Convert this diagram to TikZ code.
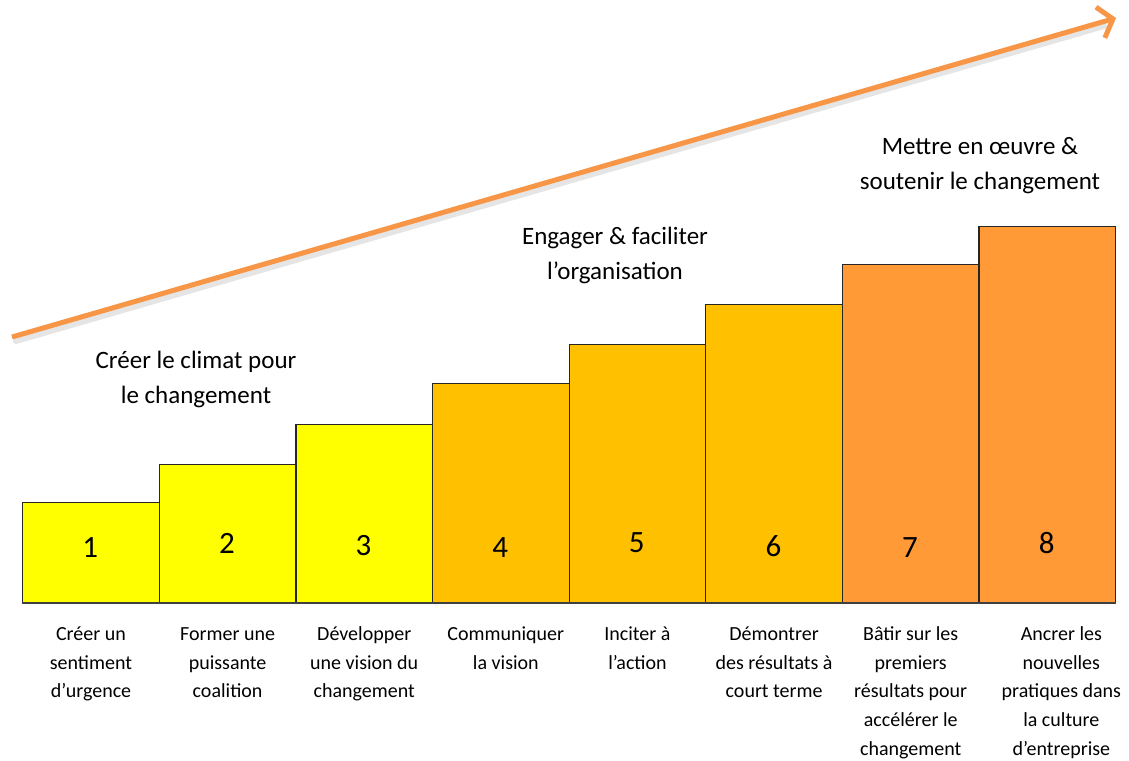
\documentclass[tikz,border=0pt]{standalone}
\usepackage{fontspec}
\setmainfont{Carlito}
\usetikzlibrary{arrows.meta,positioning}
\definecolor{stepyellow}{HTML}{FFFF00}
\definecolor{stepamber}{HTML}{FFC000}
\definecolor{steporange}{HTML}{FF9A36}
\definecolor{arroworange}{HTML}{F79646}

\begin{document}
\begin{tikzpicture}[
  x=1pt, y=-1pt,
  bar/.style={draw=black!85, line width=1.3pt, minimum width=136.625pt, inner sep=0pt, anchor=south west},
  num/.style={font=\fontsize{31}{34}\selectfont, inner sep=0pt},
  steplabel/.style={align=center, anchor=north, inner sep=0pt, font=\fontsize{20}{28.8}\selectfont},
  phase/.style={align=center, inner sep=0pt, font=\fontsize{25}{35}\selectfont},
  arrow/.style={-{Straight Barb[length=13pt, width=32pt]}, line width=5pt, arroworange}
]
\useasboundingbox (0,0) rectangle (1129,760);

% rising arrow
\coordinate (arrowstart) at (12,337);
\coordinate (arrowend) at (1116,18);
\draw[black!10, line width=6pt, line cap=round] ([shift={(4,4)}]arrowstart) -- ([shift={(-12,8)}]arrowend);
\draw[arrow] (arrowstart) -- (arrowend);

% steps
\foreach \i/\top/\ny/\dx/\col/\txt in {
  1/503/548/0/stepyellow/{Créer un\\sentiment\\d’urgence},
  2/465/543/0/stepyellow/{Former une\\puissante\\coalition},
  3/425/546/0/stepyellow/{Développer\\une vision du\\changement},
  4/384/548/5/stepamber/{Communiquer\\la vision},
  5/345/543/0/stepamber/{Inciter à\\l’action},
  6/305/546/0/stepamber/{Démontrer\\des résultats à\\court terme},
  7/265/548/0/steporange/{Bâtir sur les\\premiers\\résultats pour\\accélérer le\\changement},
  8/227/543/14/steporange/{Ancrer les\\nouvelles\\pratiques dans\\la culture\\d’entreprise}}
{
  \node[bar, fill=\col, minimum height={603-\top}] (b\i) at ({22+(\i-1)*136.625},603) {};
  \node[num] (n\i) at ({22+(\i-0.5)*136.625},\ny) {\i};
  \node[steplabel] (l\i) at ([xshift=\dx pt, yshift=-17pt]b\i.south) {\strut\txt};
}
\draw[black!75, line width=1.8pt] (b1.south west) -- (b8.south east);

% phases
\node[phase] (climat) at (196,379) {Créer le climat pour\\le changement};
\node[phase] (engager) at (615,255) {Engager \& faciliter\\l’organisation};
\node[phase] (soutenir) at (980,166) {Mettre en œuvre \&\\soutenir le changement};
\end{tikzpicture}
\end{document}
